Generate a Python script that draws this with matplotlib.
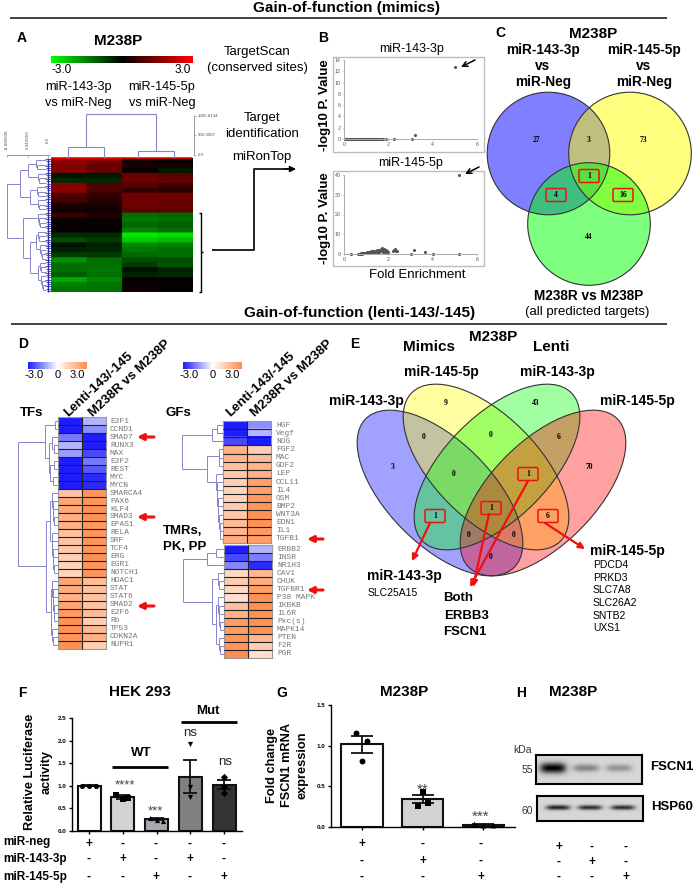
import numpy as np
import matplotlib
matplotlib.use("Agg")
import matplotlib.pyplot as plt
from matplotlib.colors import LinearSegmentedColormap
from matplotlib.patches import Circle, Ellipse, FancyBboxPatch, Rectangle

W, H = 694, 886
plt.rcParams['font.family'] = ['Liberation Sans', 'DejaVu Sans']

# ---------- data ----------
heat_a = [
 [1.7,1.5,.2,.1],[1.5,1.2,.3,.2],[1.5,1.2,.1,-.3],[-.3,-.3,1.2,1.1],[-.5,-.5,1.3,1.2],
 [1.6,.9,1.0,.7],[1.6,.9,.6,.5],[.9,.6,1.3,1.3],[.8,.5,1.3,1.2],[.3,.3,1.3,1.2],[.2,.2,1.1,1.1],
 [.7,.4,-1.3,-1.2],[.1,.1,-1.4,-1.3],[.1,.1,-1.2,-1.1],[.1,.1,-1.5,-1.3],[-.5,-.5,-2.7,-2.6],
 [-.9,-.7,-2.4,-2.2],[-.2,-.4,-1.6,-1.5],[-.4,-.5,-1.4,-1.3],[-.7,-.7,-1.2,-1.3],[-1.7,-1.3,-.9,-.9],
 [-1.3,-1.3,-.7,-1.0],[-1.3,-1.4,-.2,-.4],[-1.1,-1.3,-.4,-.5],[-2.0,-1.6,.1,.1],[-1.5,-1.4,.1,.1],[-1.4,-1.3,.2,.1]]

b1_x = [.05,.1,.13,.17,.2,.25,.28,.32,.35,.4,.43,.47,.5,.55,.58,.62,.65,.7,.73,.77,.8,.85,.88,.92,.95,1.0,1.03,1.07,1.1,1.15,1.18,1.22,1.25,1.3,1.33,1.37,1.4,1.45,1.5,1.55,1.6,1.65,1.7,1.75,1.9,2.25,3.05,3.2,5.0]
b1_y = [0]*44 + [.05,.05,.05,.75,12.7]
b2_x = [.3,.65,.7,.73,.77,.8,.83,.87,.9,.93,.97,1.0,1.03,1.07,1.1,1.13,1.17,1.2,1.23,1.27,1.3,1.33,1.37,1.4,1.43,1.47,1.5,1.53,1.57,1.6,1.6,1.63,1.67,1.7,1.7,1.73,1.77,1.8,1.8,1.83,1.87,1.9,1.9,1.95,2.0,2.2,2.25,2.3,2.35,2.4,3.0,3.15,3.65,4.0,5.2,5.2]
b2_y = [.2,.1,.1,.2,.3,.2,.4,.3,.5,.4,.6,.5,.8,.7,1.0,.6,1.1,.8,1.3,.7,1.4,.9,1.6,1.1,1.7,1.0,1.9,1.2,1.6,2.1,.8,1.4,2.3,1.3,2.8,1.8,1.2,2.4,1.0,1.8,1.4,2.2,.9,1.5,1.1,1.3,1.9,2.7,1.6,1.3,.2,2.0,.9,.1,.1,39.8]

tf_genes = ["E2F1","CCND1","SMAD7","RUNX3","MAX","E2F2","REST","MYC","MYCN","SMARCA4","PAX6","KLF4","SMAD3","EPAS1","RELA","SRF","TCF4","ERG","EGR1","NOTCH1","HDAC1","STAT","STAT6","SMAD2","E2F6","Rb","TP53","CDKN2A","NUPR1"]
tf_lenti = [-3,-3,-1.8,-1,-1.3,-3,-3,-3,-3,1.5,2.3,2.2,2,2,1.6,1.5,1.4,1.2,1.1,1.1,2.3,2.1,2.0,2.3,2.6,2.8,2.8,2.7,2.8]
tf_r = [-1,-1.5,-3,-3,-2.4,-1.8,-2.2,-2.8,-2.8,2.7,2.7,2.8,2.8,2.6,2.7,2.7,2.7,2.8,2.7,2.7,1.7,1.6,1.5,1.5,1.7,1.2,1.8,2,1.2]
gf_genes = ["HGF","Vegf","NOG","FGF2","MAC","GDF2","LEP","CCL11","IL4","OSM","BMP2","WNT3A","EDN1","IL1","TGFB1"]
gf_lenti = [-3,-3,-2.4,2,1.9,1.6,1.4,1.2,1.1,1.1,1.3,1.4,1.7,1.9,2.1]
gf_r = [-1.5,-1,-3,1.2,1.7,1.9,2,2.4,2.4,2.6,2.7,2.8,2.8,2.6,2.5]
tm_genes = ["ERBB2","INSR","NR1H3","CAV1","CHUK","TGFBR1","P38 MAPK","IKBKB","IL6R","Pkc(s)","MAPK14","PTEN","F2R","PGR"]
tm_lenti = [-3,-2.4,-1.6,1,1.3,1,.8,1.6,2,2.5,2.5,2.7,2.7,2.9]
tm_r = [-1,-1.7,-2.8,1.8,2.1,2.5,2.8,2.8,2.8,2.8,2.8,1.8,1.2,.8]

venn3_counts = ["27","3","73","1","4","16","44"]
venn4_counts = ["3","9","43","70","0","0","6","0","1","1","1","6","0","0","0"]
genes_145 = ["PDCD4","PRKD3","SLC7A8","SLC26A2","SNTB2","UXS1"]

f_vals = [1.0,.75,.26,1.2,1.02]
f_err = [.01,.04,.02,.36,.1]
f_pts = [[1,1,1],[.8,.74,.7],[.28,.25,.23],[1.92,.97,.76],[1.2,.98,.84]]
f_dx = [[-.2,0,.2],[-.2,.15,0],[-.2,0,.2],[0,0,0],[0,0,0]]
f_colors = ['white','#d2d2d2','#a8a8b0','#808080','#333333']
f_markers = ['o','s','^','v','D']
g_vals = [1.02,.34,.03]
g_err = [.105,.05,.006]
g_pts = [[1.15,1.06,.81],[.43,.30,.26],[.04,.03,.02]]
g_dx = [[-.1,.08,0],[0,.08,-.08],[-.15,0,.15]]
g_colors = ['white','#d2d2d2','#303030']
sign_rows = [["+","-","-","-","-"],["-","+","-","+","-"],["-","-","+","-","+"]]
sign_rows3 = [["+","-","-"],["-","+","-"],["-","-","+"]]
blot1_int = [1.0,.38,.32]
blot2_int = [.85,.8,.8]

# ---------- helpers ----------
fig = plt.figure(figsize=(W/100, H/100), dpi=100)
ov = fig.add_axes([0,0,1,1], zorder=5)
ov.set_xlim(0,W); ov.set_ylim(H,0); ov.axis('off'); ov.patch.set_alpha(0)

def ax_px(l,t,r,b,**kw):
    return fig.add_axes([l/W,1-b/H,(r-l)/W,(b-t)/H],**kw)
def T(x,y,s,size=9.5,bold=False,ha='center',va='center',**kw):
    ov.text(x,y,s,fontsize=size,fontweight='bold' if bold else 'normal',ha=ha,va=va,**kw)
def L(xs,ys,c='k',lw=1,**kw):
    ov.plot(xs,ys,color=c,lw=lw,solid_capstyle='butt',**kw)
def comb(x,n,step=1.0):
    return [x,0,0] if n<=2 else [x,0,comb(x+step,n-1,step)]
def tree(node,xleaf,y0,dy,c='#8585cc',lw=.7):
    counter=[0]
    def rec(n):
        if n==0:
            y=y0+(counter[0]+.5)*dy; counter[0]+=1
            return xleaf,y
        kids=[rec(k) for k in n[1:]]
        ys=[k[1] for k in kids]
        for k in kids:
            L([n[0],k[0]],[k[1],k[1]],c,lw)
        L([n[0],n[0]],[min(ys),max(ys)],c,lw)
        return n[0],(min(ys)+max(ys))/2
    rec(node)
def bracket_top(x0,x1,y_top,yl,yr,c='#8585cc',lw=.8):
    L([x0,x0],[y_top,yl],c,lw); L([x1,x1],[y_top,yr],c,lw); L([x0,x1],[y_top,y_top],c,lw)
def red_arrow(x0,y0,x1,y1,lw=2.2,ms=9):
    ov.annotate('',xy=(x1,y1),xytext=(x0,y0),arrowprops=dict(arrowstyle='-|>',color='#ee1111',lw=lw,mutation_scale=ms,shrinkA=0,shrinkB=0))

rg = LinearSegmentedColormap.from_list('rg',['#00ff00','#000000','#ff0000'])
bo = LinearSegmentedColormap.from_list('bo',['#1c1cff','#ffffff','#ff8a4a'])

# ---------- headers ----------
T(347,8,"Gain-of-function (mimics)",11,True)
L([10,667],[18,18],'#333',1.3)
T(360,313,"Gain-of-function (lenti-143/-145)",11,True)
L([11,667],[324,324],'#222',1.2)

# ---------- A ----------
T(22,38,"A",10,True); T(118,41,"M238P",11,True)
c=ax_px(51,56,192,63); c.imshow(np.linspace(-3,3,256)[None,:],cmap=rg,aspect='auto',vmin=-3,vmax=3); c.axis('off')
T(62,70,"-3.0",8.5); T(183,70,"3.0",8.5)
T(78,87,"miR-143-3p",9.2); T(78,103,"vs miR-Neg",9.2)
T(162,87,"miR-145-5p",9.2); T(162,103,"vs miR-Neg",9.2)
h=ax_px(51,158,192,292)
h.imshow(np.repeat(np.repeat(np.array(heat_a),5,axis=0),30,axis=1),cmap=rg,vmin=-3,vmax=3,aspect='auto',interpolation='bilinear'); h.axis('off')
L([51,192],[158,158],'#ff0000',1.2)
bracket_top(86,156,114,147,151)
bracket_top(68,104,147,158,158); bracket_top(138,174,151,158,158)
tree([7,[20,[28,comb(36,3),comb(38,3)],[30,comb(37,3),comb(38,3)]],
       [23,comb(38,4),[30,[36,comb(38,3),comb(40,4)],[38,comb(40,3),comb(41,4)]]]],46,158,134/30)
for i in range(60):
    y=158+(i+.5)*134/60
    L([45+(i%3),51],[y,y],'#3a3ab8',.6)
L([48.5,48.5],[158,292],'#2a2aa8',1.0)
L([7,50],[155,155],'#888',.6)
for x,s in [(7,"11.889938"),(28,"5.944969"),(48,"0.0")]:
    L([x,x],[155,157],'#888',.5); T(x,140,s,3.2,rotation=90,color='#555')
L([194,194],[115,155],'#888',.6)
for y,s in [(116,"1005.8134"),(135,"502.9067"),(155,"0.0")]:
    L([194,196],[y,y],'#888',.5); T(198,y,s,3.2,ha='left',color='#555')
T(257,52,"TargetScan",9.5); T(257,68,"(conserved sites)",9.5)
T(262,118,"Target",9.5); T(262,134,"identification",9.5); T(262,157,"miRonTop",9.5)
L([199,201,201,199],[213,213,292,292],'k',1); L([201,203],[252,252],'k',1)
L([212,254,254,290],[250,250,169,169],'#222',1.4)
ov.annotate('',xy=(296,169),xytext=(285,169),arrowprops=dict(arrowstyle='-|>',color='k',lw=1,mutation_scale=9,shrinkA=0,shrinkB=0))

# ---------- B ----------
T(323,38,"B",10,True)
T(412,49,"miR-143-3p",9); T(411,163,"miR-145-5p",9); T(417,275,"Fold Enrichment",9.5)
T(325,105,"-log10 P. Value",9.5,True,rotation=90); T(325,218,"-log10 P. Value",9.5,True,rotation=90)
for top,bot in [(57,152),(171,266)]:
    ov.add_patch(Rectangle((333,top),151,bot-top,fc='none',ec='#bdbdbd',lw=1))
def scat(t,b,xs,ys,ymax,step):
    a=ax_px(344,t,477,b); a.patch.set_alpha(0)
    a.scatter(xs,ys,s=5,c='#555',marker='o',lw=0,clip_on=False)
    a.set_xlim(0,6); a.set_ylim(0,ymax)
    a.set_xticks(range(0,7,2)); a.set_yticks(range(0,ymax+1,step))
    a.tick_params(labelsize=3.8,length=1,width=.4,pad=1.5,colors='#555')
    for s in ['top','right']: a.spines[s].set_visible(False)
    for s in ['left','bottom']: a.spines[s].set_color('#aaa'); a.spines[s].set_linewidth(.7)
scat(60,139,b1_x,b1_y,14,2); scat(175,254,b2_x,b2_y,40,10)
for p,q in [((475,60),(461,67)),((479,167),(465,174))]:
    ov.annotate('',xy=q,xytext=p,arrowprops=dict(arrowstyle='->',color='k',lw=1.1,mutation_scale=9,shrinkA=0,shrinkB=0))

# ---------- C ----------
T(500,33,"C",10,True); T(593,34,"M238P",11,True)
for x in (543,644):
    lab = "miR-143-3p" if x==543 else "miR-145-5p"
    T(x,50,lab,9.8,True); T(x,66,"vs",9.8,True); T(x,82,"miR-Neg",9.8,True)
for (x,y,col) in [(548.5,153.5,'#0000ff'),(630,153.5,'#ffff00'),(589,224,'#00ff00')]:
    ov.add_patch(Circle((x,y),61.3,fc=col,alpha=.5,ec='none',zorder=2))
    ov.add_patch(Circle((x,y),61.3,fc='none',ec='#333',lw=.8,zorder=3))
for (x,y),s in zip([(536,140),(589,140),(643,140),(589,176),(556,195),(623,195),(589,237)],venn3_counts):
    T(x,y,s,5.5,True,family='Liberation Serif',zorder=6)
for (x,y,w) in [(589,176,20),(556,195,20),(623,195,20)]:
    ov.add_patch(FancyBboxPatch((x-w/2,y-6.5),w,13,boxstyle='round,pad=0,rounding_size=1.5',fc='none',ec='#ee1111',lw=1.1,zorder=6))
T(589,296,"M238R vs M238P",9.8,True); T(587,312,"(all predicted targets)",9.5)

# ---------- D ----------
T(23,344,"D",10,True)
for x0,x1,ofs in [(28,87,0),(183,242,155)]:
    c=ax_px(x0,362,x1,369); c.imshow(np.linspace(-3,3,256)[None,:],cmap=bo,aspect='auto'); c.axis('off')
    T(34+ofs,375,"-3.0",8); T(58+ofs,375,"0",8); T(77+ofs,375,"3.0",8)
def header(x,y,s):
    ov.text(x,y,s,fontsize=9.5,fontweight='bold',rotation=43,rotation_mode='anchor',ha='left',va='center')
header(66,415,"Lenti-143/-145"); header(91,415,"M238R vs M238P")
header(228,415,"Lenti-143/-145"); header(253,415,"M238R vs M238P")
T(32,413,"TFs",9.5,True); T(178,413,"GFs",9.5,True)
T(163,531,"TMRs,",9.5,True,ha='left'); T(163,547,"PK, PP",9.5,True,ha='left')
def heat(l,t,r,b,a,bv,genes,lx):
    n=len(genes)
    h=ax_px(l,t,r,b); h.imshow(np.array([a,bv]).T,cmap=bo,vmin=-3,vmax=3,aspect='auto',interpolation='nearest')
    h.set_xticks([]); h.set_yticks([])
    for s in h.spines.values(): s.set_color('#999'); s.set_linewidth(.8)
    dy=(b-t)/n
    for i in range(1,n):
        L([l,r],[t+i*dy,t+i*dy],'#222',.8,zorder=4)
    L([(l+r)/2,(l+r)/2],[t,b],'#222',.8,zorder=4)
    for i,g in enumerate(genes):
        T(lx,t+(i+.5)*dy,g,5.7,ha='left',family='Liberation Mono',color='#777')
heat(58,417,106,649,tf_lenti,tf_r,tf_genes,110)
heat(223,421,271,543,gf_lenti,gf_r,gf_genes,276)
heat(224,545,272,658,tm_lenti,tm_r,tm_genes,277)
tree([18,[45,[55,0,0],[49,[52,0,[54,0,0]],[50,[54,0,0],[53,0,0]]]],
      [46,[50,[52,0,comb(53,4,.5)],comb(52,6,.5)],[51,comb(52,6,.6),comb(52,3,1)]]],58,417,8.0)
tree([182,[212,[217,0,0],0],[207,comb(219,3,.5),comb(216,9,.6)]],223,421,122/15)
tree([183,[207,[216,0,0],0],[212,comb(218,3,1),[216,comb(218,5,.6),comb(219,3,.6)]]],224,545,113/14)
for y in (437,517,606):
    red_arrow(154,y,137,y)
for y in (539,590):
    red_arrow(323,y,307,y)

# ---------- E ----------
T(355,344,"E",10,True); T(493,337,"M238P",11,True); T(429,347,"Mimics",11,True); T(551,347,"Lenti",11,True)
T(441,372,"miR-145-5p",10,True); T(557,372,"miR-143-3p",10,True)
T(366,401,"miR-143-3p",10,True); T(637,401,"miR-145-5p",10,True)
for (x,y,ang,col) in [(440,493,45,'#0000ff'),(486,467,45,'#ffff00'),(497,467,-45,'#00ff00'),(543,493,-45,'#ff0000')]:
    ov.add_patch(Ellipse((x,y),210,104,angle=ang,fc=col,alpha=.37,ec='none',zorder=2))
    ov.add_patch(Ellipse((x,y),210,104,angle=ang,fc='none',ec='#333',lw=.8,zorder=3))
v4pos=[(393,467),(446,403),(536,403),(589,467),(424,437),(491,435),(559,437),(454,474),(528,474),(435,516),(491,508),(548,516),(469,535),(514,535),(491,557)]
for (x,y),s in zip(v4pos,venn4_counts):
    T(x,y,s,5.5,True,family='Liberation Serif',zorder=6)
for (x,y) in [(528,474),(435,516),(491,508),(548,516)]:
    ov.add_patch(FancyBboxPatch((x-10,y-6.5),20,13,boxstyle='round,pad=0,rounding_size=1.5',fc='none',ec='#ee1111',lw=1.1,zorder=6))
for a in [((430,523),(412,561)),((489,514),(473,587)),((528,481),(470,587)),((545,523),(585,549))]:
    ov.annotate('',xy=a[1],xytext=a[0],zorder=7,arrowprops=dict(arrowstyle='-|>',color='#ee1111',lw=1.6,mutation_scale=9,shrinkA=0,shrinkB=0))
T(404,576,"miR-143-3p",10,True); T(393,593,"SLC25A15",7.5)
T(458,598,"Both",9.5,True); T(467,616,"ERBB3",9.5,True); T(465,632,"FSCN1",9.5,True)
T(627,551,"miR-145-5p",10,True)
for y,g in zip([565,578,590,603,616,628],genes_145):
    T(593,y,g,7.5,ha='left')

# ---------- F ----------
T(22,693,"F",10,True); T(140,692,"HEK 293",11,True)
def bars(a,vals,errs,pts,dx,colors,w,ms,ytop,yt,xl,tl):
    xs=np.arange(len(vals))
    a.bar(xs,vals,width=w,color=colors,edgecolor='#111',linewidth=1.5,zorder=1)
    a.errorbar(xs,vals,yerr=errs,fmt='none',ecolor='#111',elinewidth=1.3,capsize=tl,capthick=1.3,zorder=2,clip_on=False)
    for i,p in enumerate(pts):
        a.scatter(np.array(dx[i])+i,p,s=ms,c='k',marker=f_markers[i],zorder=3,lw=0,clip_on=False)
    a.set_xlim(*xl); a.set_ylim(0,ytop); a.set_yticks(yt); a.set_xticks(xs); a.set_xticklabels([])
    a.set_yticklabels([f"{v:.1f}" for v in yt],fontsize=4.5,fontweight='bold')
    a.tick_params(length=2.5,width=1,pad=1.5)
    for s in ['top','right']: a.spines[s].set_visible(False)
    for s in ['left','bottom']: a.spines[s].set_linewidth(1)
    a.patch.set_alpha(0)
fa=ax_px(72,718,242,831)
bars(fa,f_vals,f_err,f_pts,f_dx,f_colors,.68,14,2.5,[0,.5,1,1.5,2,2.5],(-.504,4.53),5)
T(30,772,"Relative Luciferase",9.2,True,rotation=90); T(47,772,"activity",9.2,True,rotation=90)
T(125,785,"****",9.5,color='#444'); T(155,811,"***",9.5,color='#444')
T(190,733,"ns",9.5,color='#222'); T(225,762,"ns",9.5,color='#222')
T(141,753,"WT",9.5,True); L([112,168],[767,767],'k',2)
T(208,711,"Mut",9.5,True); L([181,237],[722,722],'k',2)
for y,s in zip([842,859,877],["miR-neg","miR-143-3p","miR-145-5p"]):
    T(3,y,s,8.5,True,ha='left')
for y,row in zip([844,859,877],sign_rows):
    for x,s in zip([89,123,156,190,224],row):
        T(x,y,s,8.5,True)

# ---------- G ----------
T(282,693,"G",10,True); T(404,692,"M238P",11,True)
ga=ax_px(331,705,515,827)
bars(ga,g_vals,g_err,g_pts,g_dx,g_colors,.68,18,1.5,[0,.5,1,1.5],(-.51,2.52),8)
T(272,765,"Fold change",9.2,True,rotation=90); T(287,765,"FSCN1 mRNA",9.2,True,rotation=90); T(303,765,"expression",9.2,True,rotation=90)
T(423,790,"**",11,color='#444'); T(481,817,"***",11,color='#444')
for y,row in zip([844,861,877],sign_rows3):
    for x,s in zip([362,423,481],row):
        T(x,y,s,8.5,True)

# ---------- H ----------
T(521,693,"H",10,True); T(573,692,"M238P",11,True)
T(523,750,"kDa",7.5,color='#333'); T(527,770,"55",7.5,color='#333'); T(527,811,"60",7.5,color='#333')
def blot(l,t,r,b,ints,centers,wid,thick):
    a=ax_px(l,t,r,b)
    X,Y=np.meshgrid(np.linspace(l,r,320),np.linspace(t,b,100))
    img=np.full(X.shape,.84)
    yc=(t+b)/2
    for cx,i in zip(centers,ints):
        img-=i*.84*np.exp(-((X-cx)/wid)**4-((Y-yc+1)/(thick*(.55+.45*i)))**2)
    a.imshow(np.clip(img,0,1),cmap='gray',vmin=0,vmax=1,aspect='auto')
    a.set_xticks([]); a.set_yticks([])
    for s in a.spines.values(): s.set_linewidth(1.5)
blot(536,755,642,784,blot1_int,[553,586,619],13,5)
blot(537,796,643,821,blot2_int,[558,590,623],12,2.6)
T(672,767,"FSCN1",9.5,True); T(672,807,"HSP60",9.5,True)
for y,row in zip([847,862,877],sign_rows3):
    for x,s in zip([559,592,626],row):
        T(x,y,s,8.5,True)

fig.savefig('out.png',dpi=100)
